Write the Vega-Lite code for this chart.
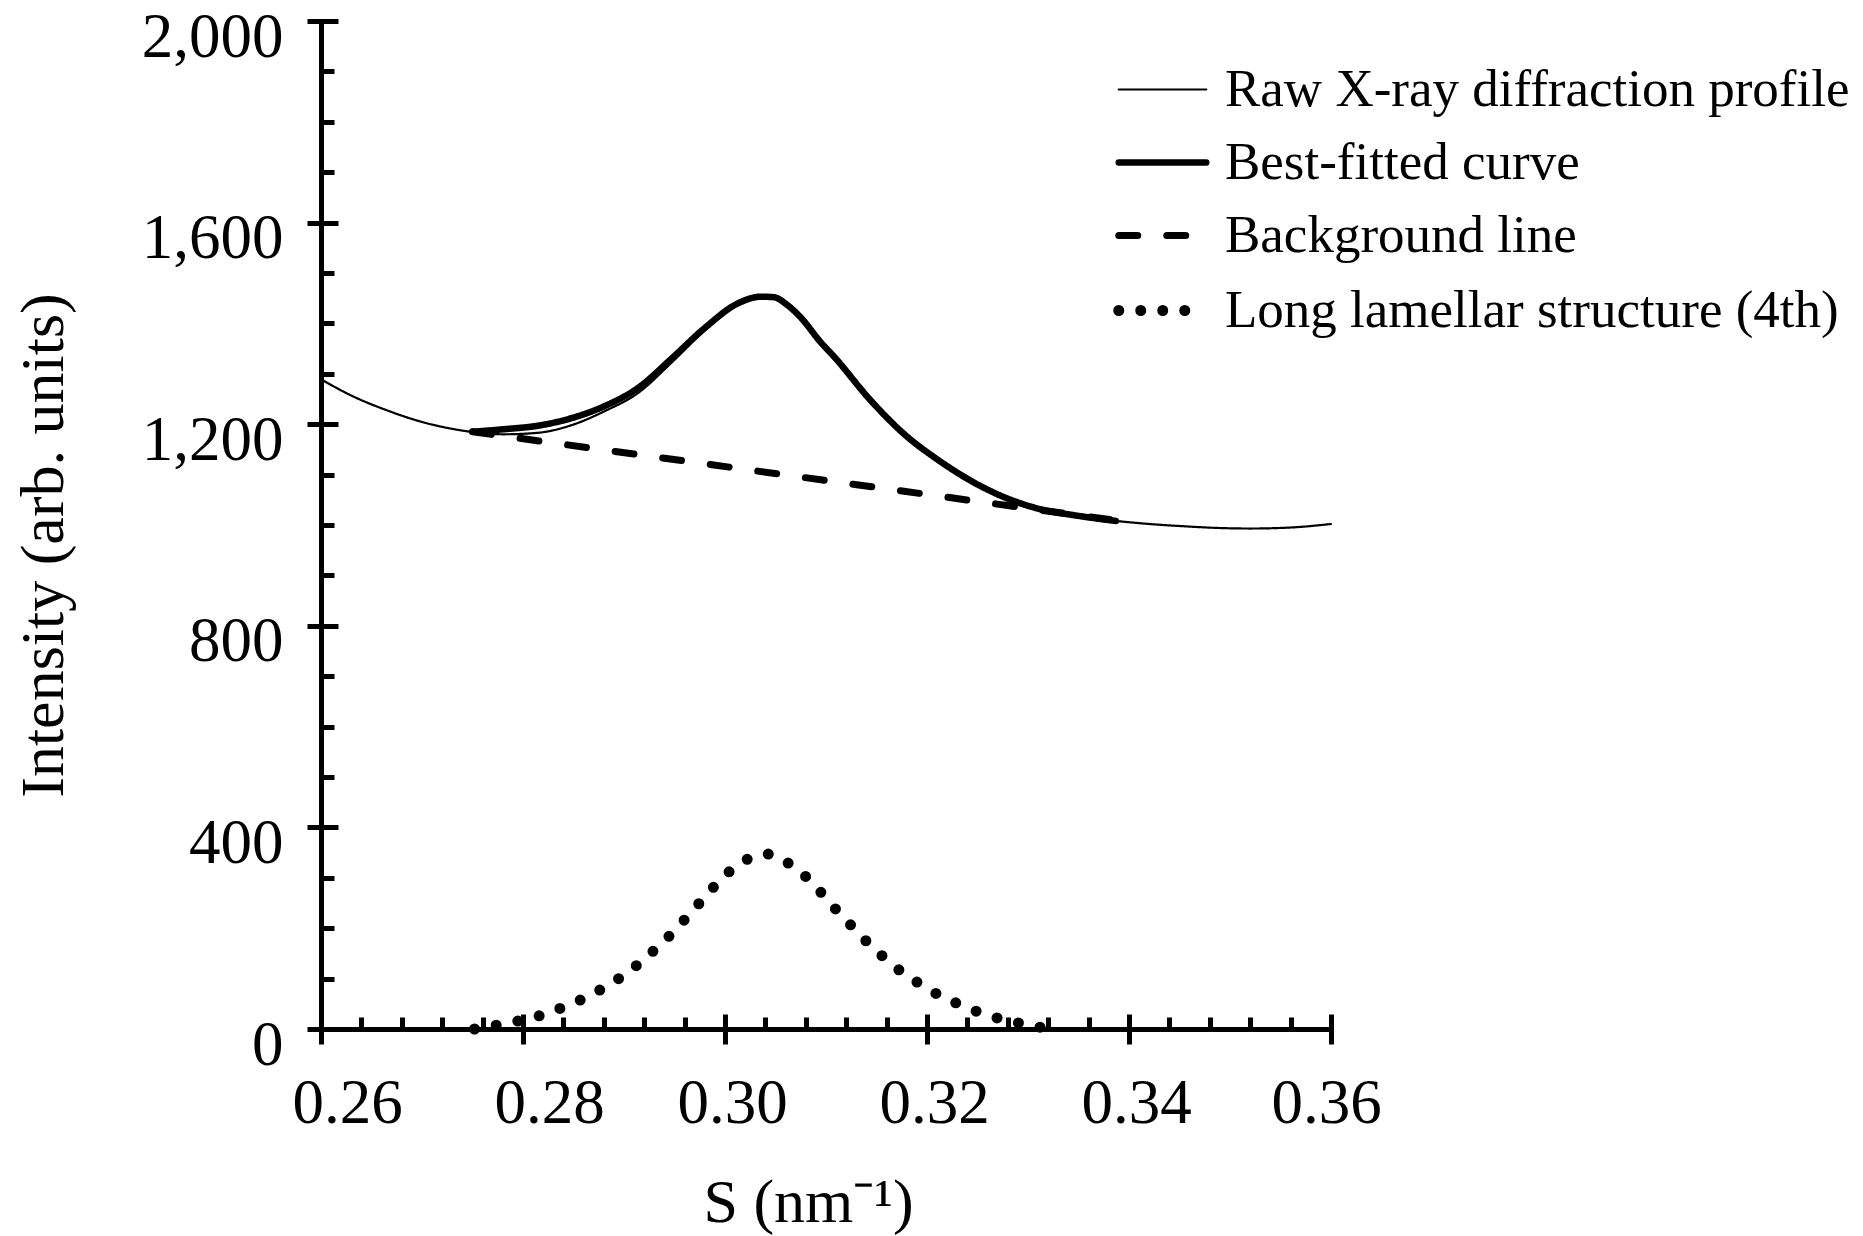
{
  "$schema": "https://vega.github.io/schema/vega-lite/v6.json",
  "width": 1010,
  "height": 1008,
  "autosize": {"type": "none"},
  "padding": {"left": 321, "top": 21, "right": 532, "bottom": 207},
  "background": "white",
  "config": {
    "view": {"stroke": null},
    "font": "Liberation Serif",
    "axis": {"domainColor": "black", "tickColor": "black", "labelColor": "black", "titleColor": "black", "grid": false, "labelFont": "Liberation Serif", "titleFont": "Liberation Serif", "titleFontWeight": "normal", "domainWidth": 5, "tickWidth": 5, "domainCap": "square", "labelOverlap": false, "labelFlush": false},
    "legend": {"labelFont": "Liberation Serif", "labelColor": "black"}
  },
  "data": {"values": [
    {"s": 0.2600, "i": 1289, "series": "Raw X-ray diffraction profile"},
    {"s": 0.2633, "i": 1254, "series": "Raw X-ray diffraction profile"},
    {"s": 0.2666, "i": 1227, "series": "Raw X-ray diffraction profile"},
    {"s": 0.2699, "i": 1205, "series": "Raw X-ray diffraction profile"},
    {"s": 0.2732, "i": 1190, "series": "Raw X-ray diffraction profile"},
    {"s": 0.2752, "i": 1184, "series": "Raw X-ray diffraction profile"},
    {"s": 0.2781, "i": 1180, "series": "Raw X-ray diffraction profile"},
    {"s": 0.2815, "i": 1183, "series": "Raw X-ray diffraction profile"},
    {"s": 0.2848, "i": 1198, "series": "Raw X-ray diffraction profile"},
    {"s": 0.2881, "i": 1226, "series": "Raw X-ray diffraction profile"},
    {"s": 0.2914, "i": 1262, "series": "Raw X-ray diffraction profile"},
    {"s": 0.2947, "i": 1322, "series": "Raw X-ray diffraction profile"},
    {"s": 0.2980, "i": 1386, "series": "Raw X-ray diffraction profile"},
    {"s": 0.3013, "i": 1437, "series": "Raw X-ray diffraction profile"},
    {"s": 0.3036, "i": 1452, "series": "Raw X-ray diffraction profile"},
    {"s": 0.3048, "i": 1451, "series": "Raw X-ray diffraction profile"},
    {"s": 0.3062, "i": 1435, "series": "Raw X-ray diffraction profile"},
    {"s": 0.3074, "i": 1413, "series": "Raw X-ray diffraction profile"},
    {"s": 0.3095, "i": 1361, "series": "Raw X-ray diffraction profile"},
    {"s": 0.3108, "i": 1333, "series": "Raw X-ray diffraction profile"},
    {"s": 0.3143, "i": 1249, "series": "Raw X-ray diffraction profile"},
    {"s": 0.3177, "i": 1181, "series": "Raw X-ray diffraction profile"},
    {"s": 0.3211, "i": 1128, "series": "Raw X-ray diffraction profile"},
    {"s": 0.3245, "i": 1085, "series": "Raw X-ray diffraction profile"},
    {"s": 0.3279, "i": 1052, "series": "Raw X-ray diffraction profile"},
    {"s": 0.3313, "i": 1029, "series": "Raw X-ray diffraction profile"},
    {"s": 0.3347, "i": 1016, "series": "Raw X-ray diffraction profile"},
    {"s": 0.3387, "i": 1008, "series": "Raw X-ray diffraction profile"},
    {"s": 0.3420, "i": 1002, "series": "Raw X-ray diffraction profile"},
    {"s": 0.3450, "i": 998, "series": "Raw X-ray diffraction profile"},
    {"s": 0.3490, "i": 994, "series": "Raw X-ray diffraction profile"},
    {"s": 0.3520, "i": 993, "series": "Raw X-ray diffraction profile"},
    {"s": 0.3560, "i": 995, "series": "Raw X-ray diffraction profile"},
    {"s": 0.3600, "i": 1002, "series": "Raw X-ray diffraction profile"},
    {"s": 0.2750, "i": 1185, "series": "Background line"},
    {"s": 0.3387, "i": 1009, "series": "Background line"},
    {"s": 0.2752, "i": 0, "series": "Long lamellar structure (4th)"},
    {"s": 0.2772, "i": 7, "series": "Long lamellar structure (4th)"},
    {"s": 0.2793, "i": 15, "series": "Long lamellar structure (4th)"},
    {"s": 0.2814, "i": 25, "series": "Long lamellar structure (4th)"},
    {"s": 0.2834, "i": 39, "series": "Long lamellar structure (4th)"},
    {"s": 0.2854, "i": 55, "series": "Long lamellar structure (4th)"},
    {"s": 0.2872, "i": 73, "series": "Long lamellar structure (4th)"},
    {"s": 0.2891, "i": 95, "series": "Long lamellar structure (4th)"},
    {"s": 0.2908, "i": 119, "series": "Long lamellar structure (4th)"},
    {"s": 0.2924, "i": 146, "series": "Long lamellar structure (4th)"},
    {"s": 0.2940, "i": 175, "series": "Long lamellar structure (4th)"},
    {"s": 0.2955, "i": 206, "series": "Long lamellar structure (4th)"},
    {"s": 0.2969, "i": 237, "series": "Long lamellar structure (4th)"},
    {"s": 0.2983, "i": 269, "series": "Long lamellar structure (4th)"},
    {"s": 0.2997, "i": 299, "series": "Long lamellar structure (4th)"},
    {"s": 0.3014, "i": 327, "series": "Long lamellar structure (4th)"},
    {"s": 0.3033, "i": 345, "series": "Long lamellar structure (4th)"},
    {"s": 0.3043, "i": 347, "series": "Long lamellar structure (4th)"},
    {"s": 0.3053, "i": 340, "series": "Long lamellar structure (4th)"},
    {"s": 0.3071, "i": 317, "series": "Long lamellar structure (4th)"},
    {"s": 0.3087, "i": 289, "series": "Long lamellar structure (4th)"},
    {"s": 0.3101, "i": 257, "series": "Long lamellar structure (4th)"},
    {"s": 0.3115, "i": 226, "series": "Long lamellar structure (4th)"},
    {"s": 0.3130, "i": 195, "series": "Long lamellar structure (4th)"},
    {"s": 0.3145, "i": 164, "series": "Long lamellar structure (4th)"},
    {"s": 0.3161, "i": 136, "series": "Long lamellar structure (4th)"},
    {"s": 0.3177, "i": 110, "series": "Long lamellar structure (4th)"},
    {"s": 0.3195, "i": 87, "series": "Long lamellar structure (4th)"},
    {"s": 0.3213, "i": 66, "series": "Long lamellar structure (4th)"},
    {"s": 0.3232, "i": 49, "series": "Long lamellar structure (4th)"},
    {"s": 0.3252, "i": 33, "series": "Long lamellar structure (4th)"},
    {"s": 0.3273, "i": 20, "series": "Long lamellar structure (4th)"},
    {"s": 0.3293, "i": 11, "series": "Long lamellar structure (4th)"},
    {"s": 0.3313, "i": 3, "series": "Long lamellar structure (4th)"},
    {"s": 0.3318, "i": 0, "series": "Long lamellar structure (4th)"},
    {"s": 0.2750, "i": 1185, "series": "Best-fitted curve"},
    {"s": 0.2781, "i": 1190, "series": "Best-fitted curve"},
    {"s": 0.2815, "i": 1197, "series": "Best-fitted curve"},
    {"s": 0.2848, "i": 1212, "series": "Best-fitted curve"},
    {"s": 0.2881, "i": 1236, "series": "Best-fitted curve"},
    {"s": 0.2914, "i": 1272, "series": "Best-fitted curve"},
    {"s": 0.2947, "i": 1330, "series": "Best-fitted curve"},
    {"s": 0.2980, "i": 1391, "series": "Best-fitted curve"},
    {"s": 0.3013, "i": 1440, "series": "Best-fitted curve"},
    {"s": 0.3036, "i": 1453, "series": "Best-fitted curve"},
    {"s": 0.3048, "i": 1452, "series": "Best-fitted curve"},
    {"s": 0.3062, "i": 1436, "series": "Best-fitted curve"},
    {"s": 0.3074, "i": 1414, "series": "Best-fitted curve"},
    {"s": 0.3095, "i": 1362, "series": "Best-fitted curve"},
    {"s": 0.3108, "i": 1334, "series": "Best-fitted curve"},
    {"s": 0.3143, "i": 1250, "series": "Best-fitted curve"},
    {"s": 0.3177, "i": 1181, "series": "Best-fitted curve"},
    {"s": 0.3211, "i": 1129, "series": "Best-fitted curve"},
    {"s": 0.3245, "i": 1086, "series": "Best-fitted curve"},
    {"s": 0.3279, "i": 1053, "series": "Best-fitted curve"},
    {"s": 0.3313, "i": 1031, "series": "Best-fitted curve"},
    {"s": 0.3347, "i": 1019, "series": "Best-fitted curve"},
    {"s": 0.3387, "i": 1008, "series": "Best-fitted curve"}
  ]},
  "resolve": {"axis": {"x": "independent", "y": "independent"}},
  "layer": [
    {
      "mark": {"type": "line", "color": "black", "strokeCap": "round", "interpolate": "monotone"},
      "encoding": {
        "x": {"field": "s", "type": "quantitative", "scale": {"domain": [0.26, 0.36], "nice": false, "zero": false},
          "axis": {"orient": "bottom", "values": [0.26, 0.28, 0.30, 0.32, 0.34, 0.36], "format": ".2f", "tickSize": 15, "labelFontSize": 63, "labelPadding": 28,
            "labelOffset": {"condition": [{"test": "datum.value < 0.29", "value": 26}, {"test": "datum.value > 0.35", "value": -5}], "value": 7},
            "title": "S (nm⁻¹)", "titleFontSize": 62, "titleX": 487, "titleY": 192, "titleBaseline": "alphabetic", "titleAlign": "center"}},
        "y": {"field": "i", "type": "quantitative", "scale": {"domain": [0, 2000], "nice": false},
          "axis": {"orient": "left", "values": [0, 400, 800, 1200, 1600, 2000], "format": ",.0f", "tickSize": 14, "labelFontSize": 63, "labelPadding": 24, "labelBaseline": "middle", "labelOffset": 16,
            "title": "Intensity (arb. units)", "titleFontSize": 62, "titleAngle": -90, "titleX": -259, "titleY": 524, "titleBaseline": "alphabetic", "titleAlign": "center"}},
        "strokeDash": {"field": "series", "type": "nominal",
          "scale": {"type": "ordinal", "domain": ["Raw X-ray diffraction profile", "Best-fitted curve", "Background line", "Long lamellar structure (4th)"],
                    "range": [[1, 0], [1, 0], [19, 29], [0, 22]]},
          "legend": {"orient": "none", "legendX": 801, "legendY": 32, "title": null, "symbolType": "M-1.25,0H1.25", "symbolSize": 4900, "symbolStrokeColor": "black",
            "labelFontSize": 53, "labelOffset": 22, "rowPadding": 7, "padding": 0, "labelLimit": 0,
            "encode": {"symbols": {"update": {"strokeCap": {"value": "round"}}}}}},
        "strokeWidth": {"field": "series", "type": "nominal",
          "scale": {"type": "ordinal", "domain": ["Raw X-ray diffraction profile", "Best-fitted curve", "Background line", "Long lamellar structure (4th)"],
                    "range": [2.2, 6.5, 7, 11]},
          "legend": {"orient": "none", "legendX": 801, "legendY": 32, "title": null, "symbolType": "M-1.25,0H1.25", "symbolSize": 4900, "symbolStrokeColor": "black",
            "labelFontSize": 53, "labelOffset": 22, "rowPadding": 7, "padding": 0, "labelLimit": 0,
            "encode": {"symbols": {"update": {"strokeCap": {"value": "round"}}}}}}
      }
    },
    {
      "mark": {"type": "point", "opacity": 0, "size": 0},
      "encoding": {
        "x": {"field": "s", "type": "quantitative", "axis": {"orient": "bottom", "values": [0.26, 0.28, 0.30, 0.32, 0.34, 0.36], "tickSize": -15, "labels": false, "domain": false, "title": null}},
        "y": {"field": "i", "type": "quantitative", "axis": {"orient": "left", "values": [0, 400, 800, 1200, 1600, 2000], "tickSize": -17, "labels": false, "domain": false, "title": null}}
      }
    },
    {
      "mark": {"type": "point", "opacity": 0, "size": 0},
      "encoding": {
        "x": {"field": "s", "type": "quantitative", "axis": {"orient": "bottom", "values": [0.264, 0.268, 0.272, 0.276, 0.284, 0.288, 0.292, 0.296, 0.304, 0.308, 0.312, 0.316, 0.324, 0.328, 0.332, 0.336, 0.344, 0.348, 0.352, 0.356], "tickSize": -12, "labels": false, "domain": false, "title": null}},
        "y": {"field": "i", "type": "quantitative", "axis": {"orient": "left", "values": [100, 200, 300, 500, 600, 700, 900, 1000, 1100, 1300, 1400, 1500, 1700, 1800, 1900], "tickSize": -13, "labels": false, "domain": false, "title": null}}
      }
    }
  ]
}
